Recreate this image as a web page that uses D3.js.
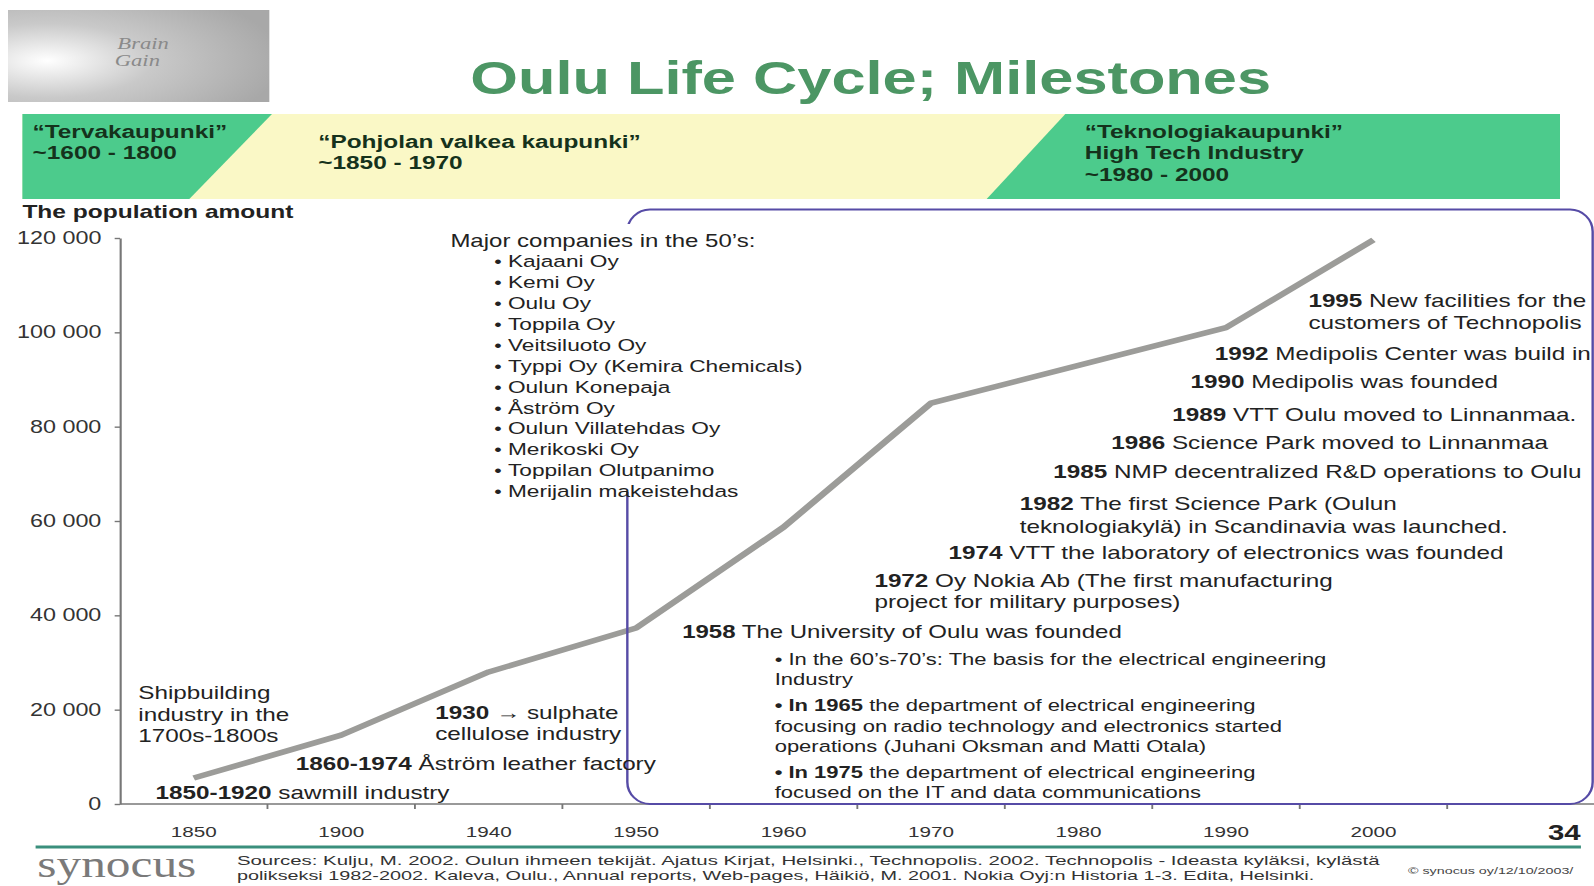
<!DOCTYPE html>
<html>
<head>
<meta charset="utf-8">
<script src="https://cdn.jsdelivr.net/npm/d3@7"></script>
<style>
  body { margin: 0; background: #fff; }
  svg { display: block; font-family: "Liberation Sans", Arial, sans-serif; }
</style>
</head>
<body>
<script>
// chart values
const years = ["1850", "1900", "1940", "1950", "1960", "1970", "1980", "1990", "2000"];
const population = [5500, 14600, 28000, 37300, 58700, 85000, 93000, 101000, 119600];
const yTicks = [0, 20000, 40000, 60000, 80000, 100000, 120000];

const eras = [
  ["\u201CTervakaupunki\u201D", "~1600 - 1800"],
  ["\u201CPohjolan valkea kaupunki\u201D", "~1850 - 1970"],
  ["\u201CTeknologiakaupunki\u201D", "High Tech Industry", "~1980 - 2000"]
];
const companies = ["Kajaani Oy", "Kemi Oy", "Oulu Oy", "Toppila Oy", "Veitsiluoto Oy",
  "Typpi Oy (Kemira Chemicals)", "Oulun Konepaja", "\u00C5str\u00F6m Oy", "Oulun Villatehdas Oy",
  "Merikoski Oy", "Toppilan Olutpanimo", "Merijalin makeistehdas"];

// notes: [bold part, plain part, x, baseline]
const notes = [
  ["", "Shipbuilding", 103.7, 699],
  ["", "industry in the", 103.7, 721],
  ["", "1700s-1800s", 103.7, 742],
  ["1930 \u2192", " sulphate", 326.4, 719],
  ["", "cellulose industry", 326.4, 740],
  ["1860-1974", " \u00C5str\u00F6m leather factory", 221.9, 770],
  ["1850-1920", " sawmill industry", 116.7, 799],
  ["1995", " New facilities for the", 981.3, 307],
  ["", "customers of Technopolis", 981.3, 329],
  ["1992", " Medipolis Center was build in", 911, 360],
  ["1990", " Medipolis was founded", 892.9, 388],
  ["1989", " VTT Oulu moved to Linnanmaa.", 879.2, 421],
  ["1986", " Science Park moved to Linnanmaa", 833.4, 449],
  ["1985", " NMP decentralized R&D operations to Oulu", 790, 478],
  ["1982", " The first Science Park (Oulun", 764.8, 510],
  ["", "teknologiakyl\u00E4) in Scandinavia was launched.", 764.8, 533],
  ["1974", " VTT the laboratory of electronics was founded", 711.4, 559],
  ["1972", " Oy Nokia Ab (The first manufacturing", 655.8, 587],
  ["", "project for military purposes)", 655.8, 608]
];
const uniNotes = [
  ["1958", " The University of Oulu was founded", 511.6, 638, 18],
  ["", "\u2022 In the 60\u2019s-70\u2019s: The basis for the electrical engineering", 581, 665],
  ["", "Industry", 581, 685],
  ["\u2022 In 1965", " the department of electrical engineering", 581, 711],
  ["", "focusing on radio technology and electronics started", 581, 732],
  ["", "operations (Juhani Oksman and Matti Otala)", 581, 752],
  ["\u2022 In 1975", " the department of electrical engineering", 581, 778],
  ["", "focused on the IT and data communications", 581, 798]
];
const sources = [
  "Sources: Kulju, M. 2002. Oulun ihmeen tekij\u00E4t. Ajatus Kirjat, Helsinki., Technopolis. 2002. Technopolis - Ideasta kyl\u00E4ksi, kyl\u00E4st\u00E4",
  "polikseksi 1982-2002. Kaleva, Oulu., Annual reports, Web-pages, H\u00E4iki\u00F6, M. 2001. Nokia Oyj:n Historia 1-3. Edita, Helsinki."
];

// the slide is a 4:3 layout stretched to the window width
const W = 1195.5, H = 886;
const svg = d3.select("body").append("svg")
  .attr("width", 1594).attr("height", 886)
  .attr("viewBox", `0 0 ${W} ${H}`)
  .attr("preserveAspectRatio", "none");

const defs = svg.append("defs");
const grad = defs.append("radialGradient").attr("id", "logoGrad")
  .attr("cx", "15%").attr("cy", "55%").attr("r", "90%");
grad.append("stop").attr("offset", "0%").attr("stop-color", "#ffffff");
grad.append("stop").attr("offset", "45%").attr("stop-color", "#c9c9c9");
grad.append("stop").attr("offset", "100%").attr("stop-color", "#a8a8a8");

// logo
svg.append("rect").attr("x", 6).attr("y", 10).attr("width", 196).attr("height", 92)
  .attr("fill", "url(#logoGrad)");
svg.append("text").attr("x", 88).attr("y", 49).attr("font-family", "Liberation Serif, serif")
  .attr("font-style", "italic").attr("font-size", 17).attr("fill", "#8a8a8a").text("Brain");
svg.append("text").attr("x", 86).attr("y", 66).attr("font-family", "Liberation Serif, serif")
  .attr("font-style", "italic").attr("font-size", 17).attr("fill", "#8a8a8a").text("Gain");

// title
svg.append("text").attr("x", 653).attr("y", 94).attr("text-anchor", "middle")
  .attr("font-size", 46).attr("font-weight", "bold").attr("fill", "#4c9664")
  .text("Oulu Life Cycle; Milestones");

// era band
svg.append("rect").attr("x", 16.8).attr("y", 114).attr("width", 1153.2).attr("height", 85)
  .attr("fill", "#faf8c6");
svg.append("polygon").attr("points", "16.8,114 204,114 142,199 16.8,199").attr("fill", "#4ccb8c");
svg.append("polygon").attr("points", "799,114 1170,114 1170,199 740,199").attr("fill", "#4ccb8c");

const eraPos = [[24.4, 138], [238.7, 148], [813.6, 138]];
eras.forEach((lines, i) => {
  const t = svg.append("text").attr("font-size", 18.3).attr("font-weight", "bold").attr("fill", "#15321c");
  lines.forEach((l, j) => {
    t.append("tspan").attr("x", eraPos[i][0]).attr("y", eraPos[i][1] + j * 21.5).text(l);
  });
});

svg.append("text").attr("x", 16.8).attr("y", 218).attr("font-size", 18.4).attr("font-weight", "bold")
  .attr("fill", "#222").text("The population amount");

// scales
const x = d3.scaleBand().domain(years).range([90, 90 + 9 * 110.6]).padding(0);
const y = d3.scaleLinear().domain([0, 120000]).range([804, 238]);
const fmt = d3.formatLocale({ decimal: ".", thousands: " ", grouping: [3], currency: ["", ""] }).format(",");

// population line
const line = d3.line().x((d, i) => x(years[i]) + x.bandwidth() / 2).y(d => y(d));
svg.append("path").datum(population).attr("d", line)
  .attr("fill", "none").attr("stroke", "#9c9c99").attr("stroke-width", 5.5)
  .attr("stroke-linejoin", "round").attr("stroke-linecap", "butt");

// y axis
const yAxis = svg.append("g").attr("transform", "translate(90,0)")
  .call(d3.axisLeft(y).tickValues(yTicks).tickFormat(fmt).tickSize(4).tickSizeOuter(0).tickPadding(10));
yAxis.select(".domain").attr("stroke", "#777").attr("stroke-width", 1.6);
yAxis.selectAll(".tick line").attr("stroke", "#777").attr("stroke-width", 1.4);
yAxis.selectAll(".tick text").attr("font-size", 17.5).attr("fill", "#333")
  .attr("font-family", "Liberation Sans, Arial, sans-serif");

// x axis (labels centred in bands, ticks on band edges)
const xAxis = svg.append("g").attr("transform", "translate(0,804)")
  .call(d3.axisBottom(x).tickSize(0).tickPadding(22));
xAxis.select(".domain").remove();
xAxis.selectAll(".tick text").attr("font-size", 15.5).attr("fill", "#333")
  .attr("font-family", "Liberation Sans, Arial, sans-serif");
svg.append("line").attr("x1", 90).attr("x2", W).attr("y1", 804).attr("y2", 804)
  .attr("stroke", "#777").attr("stroke-width", 1.6);
svg.append("g").selectAll("line").data(years).join("line")
  .attr("x1", d => x(d) + x.bandwidth()).attr("x2", d => x(d) + x.bandwidth())
  .attr("y1", 804).attr("y2", 809).attr("stroke", "#777").attr("stroke-width", 1.4);

// rounded frame around the technopolis era
svg.append("rect").attr("x", 470.5).attr("y", 209.5).attr("width", 724).attr("height", 594.5)
  .attr("rx", 17).attr("ry", 22).attr("fill", "none")
  .attr("stroke", "#564ba6").attr("stroke-width", 1.8);

// companies text box (white, hides the frame edge)
svg.append("rect").attr("x", 334).attr("y", 224).attr("width", 272).attr("height", 268).attr("fill", "#fff");
svg.append("text").attr("x", 337.8).attr("y", 247).attr("font-size", 18).attr("fill", "#222")
  .text("Major companies in the 50\u2019s:");
const comp = svg.append("g").selectAll("g").data(companies).join("g")
  .attr("transform", (d, i) => `translate(0,${(257 + i * 20.55) * 1.0166 + 6})`);
comp.append("text").attr("x", 370.6).attr("font-size", 16).attr("fill", "#222").text("\u2022");
comp.append("text").attr("x", 381).attr("font-size", 17).attr("fill", "#222").text(d => d);

// milestone notes
function drawNotes(list, size) {
  list.forEach(n => {
    const t = svg.append("text").attr("x", n[2]).attr("y", n[3])
      .attr("font-size", n[4] || size).attr("fill", "#222");
    if (n[0]) t.append("tspan").attr("font-weight", "bold").text(n[0]);
    t.append("tspan").text(n[1]);
  });
}
drawNotes(notes, 18.2);
drawNotes(uniNotes, 16.5);

// footer
svg.append("line").attr("x1", 26.7).attr("x2", 1185.7).attr("y1", 847).attr("y2", 847)
  .attr("stroke", "#3a8f7c").attr("stroke-width", 3);
svg.append("text").attr("x", 1161).attr("y", 840).attr("font-size", 22).attr("font-weight", "bold")
  .attr("fill", "#222").text("34");
svg.append("text").attr("x", 28).attr("y", 877).attr("font-family", "Liberation Serif, serif")
  .attr("font-size", 37).attr("fill", "#7a7a7a").text("synocus");
sources.forEach((s, i) => {
  svg.append("text").attr("x", 177.7).attr("y", 865 + i * 15).attr("font-size", 13)
    .attr("fill", "#333").attr("textLength", i ? 808 : 857).attr("lengthAdjust", "spacingAndGlyphs").text(s);
});
svg.append("text").attr("x", 1056).attr("y", 874).attr("font-size", 8.5).attr("fill", "#444")
  .attr("textLength", 124).attr("lengthAdjust", "spacingAndGlyphs").text("\u00A9 synocus oy/12/10/2003/");
</script>
</body>
</html>
